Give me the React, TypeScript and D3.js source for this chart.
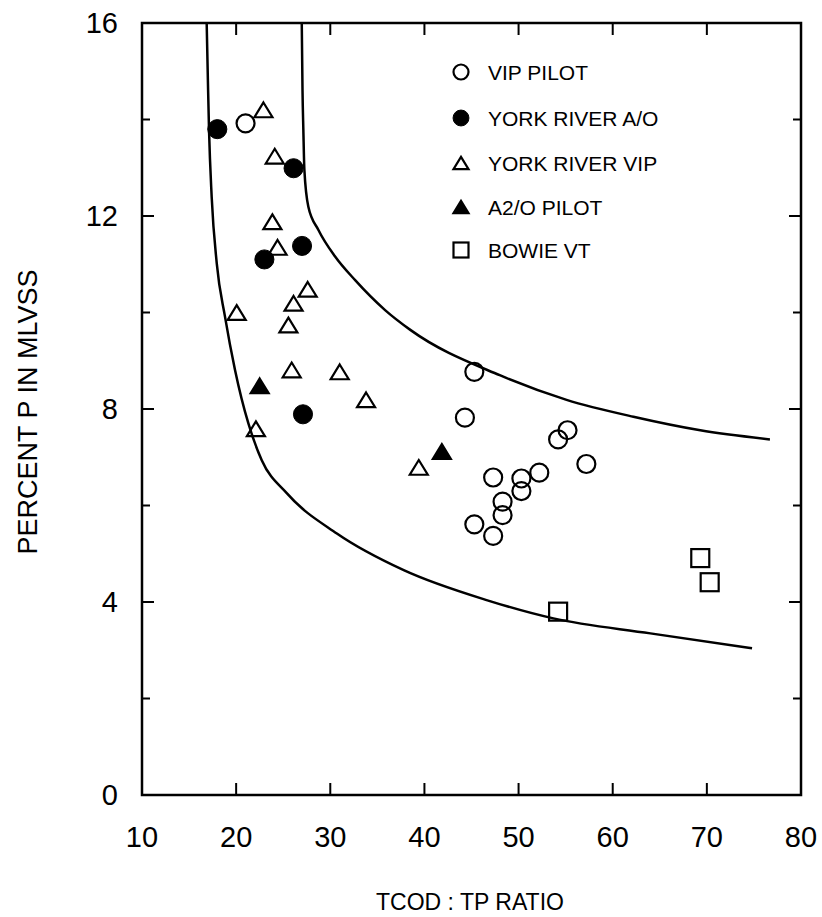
import React from "react";
import * as d3 from "d3";

const W = 822;
const H = 917;

// Series (x = TCOD:TP ratio, y = percent P in MLVSS)
const vipPilotX = [21.0, 45.3, 44.3, 55.2, 54.2, 57.2, 52.2, 47.3, 50.3, 50.3, 48.3, 48.3, 45.3, 47.3];
const vipPilotY = [13.92, 8.77, 7.82, 7.56, 7.37, 6.86, 6.68, 6.58, 6.56, 6.3, 6.08, 5.8, 5.61, 5.37];

const yorkAOX = [18.0, 26.1, 27.0, 23.0, 27.1];
const yorkAOY = [13.8, 12.99, 11.38, 11.1, 7.89];

const yorkVIPX = [22.9, 24.1, 23.85, 24.4, 27.6, 26.1, 20.06, 25.55, 25.9, 31.0, 33.8, 22.1, 39.4];
const yorkVIPY = [14.2, 13.24, 11.88, 11.35, 10.48, 10.19, 10.0, 9.74, 8.81, 8.77, 8.19, 7.59, 6.79];

const a2oPilotX = [22.5, 41.85];
const a2oPilotY = [8.48, 7.12];

const bowieX = [54.2, 69.3, 70.3];
const bowieY = [3.8, 4.91, 4.41];

// Boundary curves
const upperCurveX = [26.97, 27.05, 27.14, 27.25, 27.67, 28.74, 30.51, 32.64, 35.82, 38.5, 48.0, 55.1, 62.2, 69.3, 76.7];
const upperCurveY = [16.0, 14.6, 13.78, 12.95, 12.19, 11.71, 11.16, 10.67, 10.05, 9.64, 8.7, 8.19, 7.84, 7.56, 7.37];

const lowerCurveX = [16.87, 17.0, 17.12, 17.4, 17.94, 18.82, 19.88, 21.3, 22.72, 25.4, 30.7, 37.8, 46.6, 53.7, 64.0, 74.8];
const lowerCurveY = [16.0, 14.8, 13.78, 12.4, 11.02, 9.91, 8.81, 7.7, 6.94, 6.25, 5.42, 4.66, 4.04, 3.66, 3.35, 3.04];

const xTicks = [10, 20, 30, 40, 50, 60, 70, 80];
const yTicks = [0, 2, 4, 6, 8, 10, 12, 14, 16];
const yLabels = [0, 4, 8, 12, 16];

const legendLabels = ["VIP PILOT", "YORK RIVER A/O", "YORK RIVER VIP", "A2/O PILOT", "BOWIE VT"];
const legendKinds = ["openCircle", "filledCircle", "openTriangle", "filledTriangle", "openSquare"];

const FONT = "'Liberation Sans', Arial, sans-serif";

function Marker({ kind, cx, cy, s }: { kind: string; cx: number; cy: number; s: number }) {
  const sw = 2.2;
  if (kind === "openCircle") {
    return <circle cx={cx} cy={cy} r={s * 0.5} fill="none" stroke="#000" strokeWidth={sw} />;
  }
  if (kind === "filledCircle") {
    return <circle cx={cx} cy={cy} r={s * 0.53} fill="#000" stroke="#000" strokeWidth={1} />;
  }
  if (kind === "openTriangle" || kind === "filledTriangle") {
    const w = s;
    const h = s * 0.82;
    const d = `M${cx},${cy - h / 2}L${cx + w / 2},${cy + h / 2}L${cx - w / 2},${cy + h / 2}Z`;
    return (
      <path
        d={d}
        fill={kind === "filledTriangle" ? "#000" : "none"}
        stroke="#000"
        strokeWidth={sw}
        strokeLinejoin="miter"
      />
    );
  }
  return <rect x={cx - s / 2} y={cy - s / 2} width={s} height={s} fill="none" stroke="#000" strokeWidth={sw} />;
}

export default function App() {
  const left = 142;
  const right = 801;
  const top = 23;
  const bottom = 795;

  const x = d3.scaleLinear().domain([10, 80]).range([left, right]);
  const y = d3.scaleLinear().domain([0, 16]).range([bottom, top]);

  const line = d3
    .line<[number, number]>()
    .x((d) => x(d[0]))
    .y((d) => y(d[1]))
    .curve(d3.curveMonotoneX);

  const upper = line(upperCurveX.map((v, i) => [v, upperCurveY[i]] as [number, number])) || "";
  const lower = line(lowerCurveX.map((v, i) => [v, lowerCurveY[i]] as [number, number])) || "";

  const series = [
    { kind: "openCircle", xs: vipPilotX, ys: vipPilotY, s: 18 },
    { kind: "filledCircle", xs: yorkAOX, ys: yorkAOY, s: 18 },
    { kind: "openTriangle", xs: yorkVIPX, ys: yorkVIPY, s: 18 },
    { kind: "filledTriangle", xs: a2oPilotX, ys: a2oPilotY, s: 18 },
    { kind: "openSquare", xs: bowieX, ys: bowieY, s: 18 },
  ];

  const legendY = [72, 118, 163, 207, 250];

  return (
    <svg
      width={W}
      height={H}
      viewBox={`0 0 ${W} ${H}`}
      style={{ position: "absolute", left: 0, top: 0, background: "#fff" }}
    >
      <rect x={0} y={0} width={W} height={H} fill="#fff" />

      {/* frame */}
      <rect x={left} y={top} width={right - left} height={bottom - top} fill="none" stroke="#000" strokeWidth={2.5} />

      {/* x ticks (bottom & top, inward) */}
      {xTicks
        .filter((t) => t !== 10 && t !== 80)
        .map((t) => (
          <g key={"xt" + t}>
            <line x1={x(t)} x2={x(t)} y1={bottom} y2={bottom - 12} stroke="#000" strokeWidth={2} />
            <line x1={x(t)} x2={x(t)} y1={top} y2={top + 12} stroke="#000" strokeWidth={2} />
          </g>
        ))}
      {/* y ticks (left & right, inward) */}
      {yTicks
        .filter((t) => t !== 0 && t !== 16)
        .map((t) => {
          const len = yLabels.includes(t) ? 12 : 8;
          return (
            <g key={"yt" + t}>
              <line x1={left} x2={left + len} y1={y(t)} y2={y(t)} stroke="#000" strokeWidth={2} />
              <line x1={right} x2={right - len} y1={y(t)} y2={y(t)} stroke="#000" strokeWidth={2} />
            </g>
          );
        })}

      {/* tick labels */}
      {xTicks.map((t) => (
        <text key={"xl" + t} x={x(t)} y={847} textAnchor="middle" fontFamily={FONT} fontSize={29} fill="#000">
          {t}
        </text>
      ))}
      {yLabels.map((t) => (
        <text
          key={"yl" + t}
          x={118}
          y={y(t)}
          textAnchor="end"
          dominantBaseline="central"
          fontFamily={FONT}
          fontSize={29}
          fill="#000"
        >
          {t}
        </text>
      ))}

      {/* axis titles */}
      <text x={470} y={910} textAnchor="middle" fontFamily={FONT} fontSize={23} fill="#000">
        TCOD : TP RATIO
      </text>
      <text
        transform={`translate(37,412) rotate(-90)`}
        textAnchor="middle"
        fontFamily={FONT}
        fontSize={27}
        fill="#000"
      >
        PERCENT P IN MLVSS
      </text>

      {/* boundary curves */}
      <path d={upper} fill="none" stroke="#000" strokeWidth={2.5} />
      <path d={lower} fill="none" stroke="#000" strokeWidth={2.5} />

      {/* points */}
      {series.map((s) =>
        s.xs.map((v, i) => (
          <Marker key={s.kind + i} kind={s.kind} cx={x(v)} cy={y(s.ys[i])} s={s.s} />
        ))
      )}

      {/* legend */}
      {legendLabels.map((lab, i) => (
        <g key={"lg" + i}>
          <Marker kind={legendKinds[i]} cx={461} cy={legendY[i]} s={15} />
          <text x={488} y={legendY[i]} dominantBaseline="central" fontFamily={FONT} fontSize={21} fill="#000">
            {lab}
          </text>
        </g>
      ))}
    </svg>
  );
}
